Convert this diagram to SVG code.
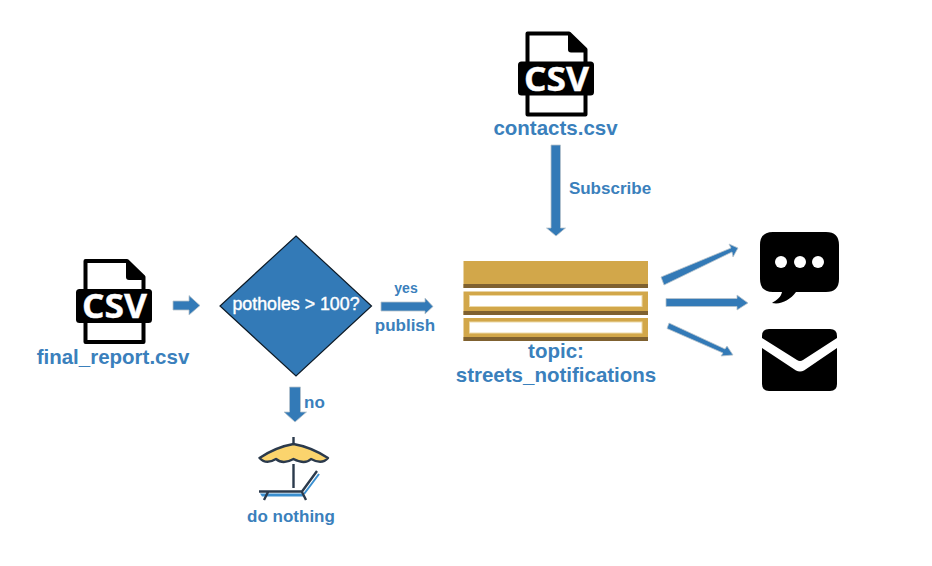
<svg xmlns="http://www.w3.org/2000/svg" width="932" height="566" viewBox="0 0 932 566">
<style>
text{font-family:"Liberation Sans",Arial,sans-serif;font-weight:bold;fill:#3a80bc;text-anchor:middle}
.csv{font-family:"Open Sans","Liberation Sans",sans-serif;font-size:34px;fill:#fff;font-weight:bold;stroke:#fff;stroke-width:.4}
.arrow{fill:#337ab7;stroke:#b9c4cc;stroke-width:.8}
.gold{fill:#d2a74a}
.dark{fill:#7f6130}
.slot{fill:#fff;stroke:#ecd9a8;stroke-width:1}
</style>
<defs>
<g id="csv-icon">
<path d="M85.500 261H127L143.500 277V342H85.500Z" fill="#fff" stroke="#000" stroke-width="4" stroke-linejoin="round"/>
<path d="M126 260L145 278V280H129Q126 280 126 277Z" fill="#000"/>
<rect x="76" y="289" width="76" height="34" rx="3.500" fill="#000"/>
<text class="csv" x="114.500" y="318" textLength="65" lengthAdjust="spacingAndGlyphs">CSV</text>
</g>
</defs>
<rect width="932" height="566" fill="#fff"/>
<g id="connectors">
<polygon class="arrow" points="173,301 189,301 189,295.500 200,305.500 189,315 189,310 173,310"/>
<polygon class="arrow" points="381,302 425,302 425,298 433,306.500 425,314 425,311 381,311"/>
<polygon class="arrow" points="289.500,387 300.500,387 300.500,412 306.500,412 295,422 284,412 289.500,412"/>
<polygon class="arrow" points="551,145 560.500,145 560.500,228 565.500,228 556,236 546.500,228 551,228"/>
<polygon class="arrow" points="661,277 731,248 729,244 738,248 733,257 732,252 664,285"/>
<polygon class="arrow" points="666,298.500 737,298.500 737,295 748,303 737,310 737,306.500 666,306.500"/>
<polygon class="arrow" points="669,323 725,349 727,346 733,355 721,356 723,353 667,328.500"/>
</g>
<g id="final-report">
<use href="#csv-icon"/>
<text x="113" y="364" font-size="20.500">final_report.csv</text>
</g>
<g id="contacts">
<use href="#csv-icon" x="442" y="-227.500"/>
<text x="555.500" y="135" font-size="20.500">contacts.csv</text>
</g>
<g id="decision">
<polygon points="296,236 371.500,306 296,376 220,306" fill="#337ab7" stroke="#0d1a26" stroke-width="1.200"/>
<text x="296" y="310" font-size="17.800" style="fill:#fff;font-weight:normal;stroke:#fff;stroke-width:.4">potholes &gt; 100?</text>
</g>
<g id="edge-labels">
<text x="406" y="293" font-size="14">yes</text>
<text x="405" y="331" font-size="17">publish</text>
<text x="314.500" y="408" font-size="17">no</text>
<text x="610" y="194" font-size="17">Subscribe</text>
</g>
<g id="topic">
<rect class="gold" x="463.500" y="261" width="184.500" height="27"/>
<rect class="dark" x="463.500" y="284" width="184.500" height="4"/>
<rect class="gold" x="463.500" y="291.500" width="184.500" height="23.500"/>
<rect class="dark" x="463.500" y="311" width="184.500" height="4"/>
<rect class="slot" x="469.500" y="295.500" width="172.500" height="11"/>
<rect class="gold" x="463.500" y="318" width="184.500" height="23"/>
<rect class="dark" x="463.500" y="337" width="184.500" height="4"/>
<rect class="slot" x="469.500" y="322" width="172.500" height="11"/>
<text x="556" y="358" font-size="20.500">topic:</text>
<text x="556" y="382" font-size="20.500">streets_notifications</text>
</g>
<g id="sms">
<path d="M773 232H826Q839 232 839 245V279Q839 292 826 292H796C790 300 781 305 772 303C777 300 781 297 782 292H773Q760 292 760 279V245Q760 232 773 232Z" fill="#000"/>
<circle cx="781" cy="262" r="6" fill="#fff"/>
<circle cx="800" cy="262" r="6" fill="#fff"/>
<circle cx="818" cy="262" r="6" fill="#fff"/>
</g>
<g id="email">
<path d="M769 329H830Q837 329 837 336V338L803 360Q800 362 797 360L762 338V336Q762 329 769 329Z" fill="#000"/>
<path d="M762 348L796 370.500Q800 372.500 804 370.500L837 348V384Q837 391 830 391H769Q762 391 762 384Z" fill="#000"/>
</g>
<g id="do-nothing">
<path d="M260 493.500H302L305 496.500H262Z" fill="#3a8fd0"/>
<path d="M304 494L319 474" fill="none" stroke="#3a8fd0" stroke-width="2"/>
<path d="M293.500 437V445M293.500 464V488" fill="none" stroke="#2b3a4c" stroke-width="2.400"/>
<path d="M259.500 458Q276 447 293.500 444Q311 447 328 458Q322 465 311 459Q305 465 293.500 459Q283 465 276 459Q266 465 259.500 458Z" fill="#fbd46d" stroke="#2b3a4c" stroke-width="2.400" stroke-linejoin="round"/>
<path d="M259 491.500H302L317 471M268 492L264 500M302 492L306 500" fill="none" stroke="#2b3a4c" stroke-width="2.400"/>
<text x="291" y="522" font-size="17">do nothing</text>
</g>
</svg>
